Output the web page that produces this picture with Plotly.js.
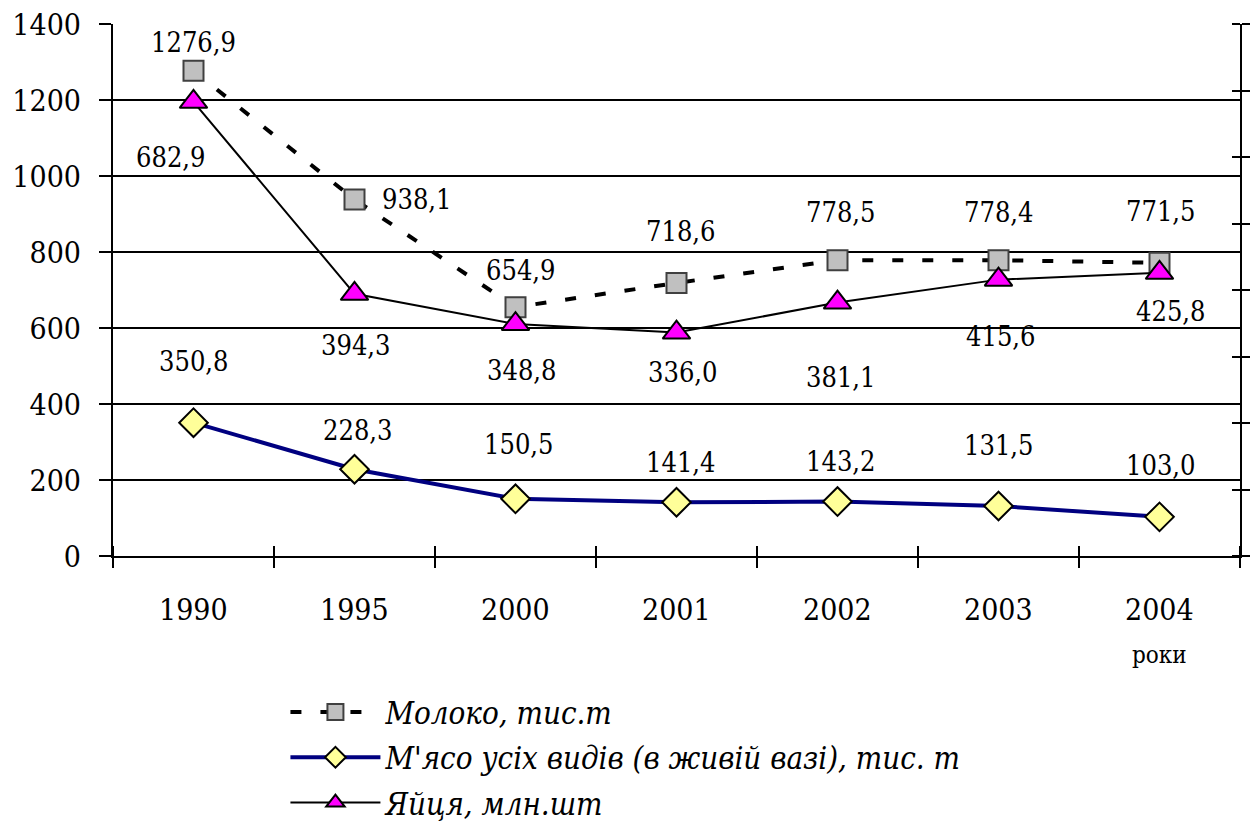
<!DOCTYPE html>
<html>
<head>
<meta charset="utf-8">
<script src="https://cdn.plot.ly/plotly-3.0.1.min.js"></script>
<style>html,body{margin:0;padding:0;background:#fff;}#chart{width:1257px;height:821px;}#err{position:absolute;left:0;top:0;color:red;font-size:14px;}</style>
</head>
<body>
<div id="chart"></div>
<div id="err"></div>
<script>
const years = ['1990', '1995', '2000', '2001', '2002', '2003', '2004'];
const milk = [1276.9, 938.1, 654.9, 718.6, 778.5, 778.4, 771.5];
const meat = [350.8, 228.3, 150.5, 141.4, 143.2, 131.5, 103.0];
const eggs = [682.9, 394.3, 348.8, 336.0, 381.1, 415.6, 425.8];
const names = ['Молоко, тис.т', "М'ясо усіх видів (в живій вазі), тис. т", 'Яйця, млн.шт'];

const FONT = 'DejaVu Serif Condensed, DejaVu Serif';
const fmt = v => v.toFixed(1).replace('.', ',');
const idx = years.map((_, i) => i);
const n = years.length;
const bounds = [];
for (let i = 0; i <= n; i++) bounds.push(i - 0.5);

// label offsets (pixels) – styling only
const milkOff = [[0, 28], [62, 0], [5, 37], [4, 51], [3, 48], [0, 48], [1, 51]];
const eggOff = [[-23, -56], [1, -52], [6, -46], [6, -40], [3, -75], [2, -57], [11, -39]];
const meatOff = [[0, 61], [3, 39], [3, 54], [4, 40], [3, 40], [0, 61], [1, 51]];

const traces = [
  {
    x: idx, y: milk, name: names[0], type: 'scatter', mode: 'lines+markers',
    line: {color: '#000', width: 4, dash: '11px,19px'},
    marker: {symbol: 'square', size: 20, color: '#c0c0c0', line: {color: '#404040', width: 2}},
    xaxis: 'x', yaxis: 'y', hoverinfo: 'skip', legendgroup: 'g1'
  },
  {
    x: idx, y: meat, name: names[1], type: 'scatter', mode: 'lines+markers',
    line: {color: '#000080', width: 4},
    marker: {symbol: 'diamond', size: 22, color: '#ffff99', line: {color: '#000', width: 2}},
    xaxis: 'x', yaxis: 'y', hoverinfo: 'skip', legendgroup: 'g2'
  },
  {
    x: idx, y: eggs, name: names[2], type: 'scatter', mode: 'lines+markers',
    line: {color: '#000', width: 2},
    marker: {symbol: 'triangle-up', size: 24, color: '#ff00ff', line: {color: '#000', width: 2}},
    xaxis: 'x', yaxis: 'y2', hoverinfo: 'skip', legendgroup: 'g3'
  }
];

const annotations = [];
function addLabels(vals, off, yref) {
  vals.forEach((v, i) => {
    annotations.push({
      x: i, y: v, xref: 'x', yref: yref, text: fmt(v), showarrow: false,
      xshift: off[i][0], yshift: off[i][1],
      font: {family: FONT, size: 27, color: '#000'}
    });
  });
}
addLabels(milk, milkOff, 'y');
addLabels(eggs, eggOff, 'y2');
addLabels(meat, meatOff, 'y');
// category labels
years.forEach((yr, i) => {
  annotations.push({
    x: i, y: 0, xref: 'x', yref: 'paper', text: yr, showarrow: false,
    yanchor: 'top', yshift: -34, font: {family: FONT, size: 30, color: '#000'}
  });
});
annotations.push({
  xref: 'x', yref: 'paper', x: n - 1, y: 0, yshift: -83, text: 'роки',
  showarrow: false, font: {family: FONT, size: 24, color: '#000'}, yanchor: 'top'
});

const layout = {
  width: 1257, height: 821,
  margin: {l: 113, r: 17, t: 24, b: 265, autoexpand: false},
  paper_bgcolor: '#fff', plot_bgcolor: '#fff',
  font: {family: FONT, color: '#000'},
  showlegend: true,
  legend: {
    x: 0.153, y: -0.243, xanchor: 'left', yanchor: 'top',
    font: {family: FONT, size: 31, color: '#000', style: 'italic'},
    itemwidth: 90, traceorder: 'grouped', tracegroupgap: 2, bgcolor: 'rgba(0,0,0,0)'
  },
  xaxis: {
    type: 'linear', range: [-0.5, n - 0.5], tickmode: 'array', tickvals: bounds,
    showticklabels: false,
    ticks: 'outside', ticklen: 10, tickwidth: 2, tickcolor: '#000',
    minor: {tickmode: 'array', tickvals: bounds, ticks: 'inside', ticklen: 10, tickwidth: 2, tickcolor: '#000', showgrid: false},
    showline: true, linecolor: '#000', linewidth: 2, showgrid: false, zeroline: false
  },
  yaxis: {
    range: [0, 1400], dtick: 200, ticks: 'outside', ticklen: 12, tickwidth: 2, tickcolor: '#000',
    showline: true, linecolor: '#000', linewidth: 2, showgrid: true, gridcolor: '#000', gridwidth: 2,
    zeroline: false, tickfont: {family: FONT, size: 30, color: '#000'}, ticklabelstandoff: 12
  },
  yaxis2: {
    overlaying: 'y', side: 'right', range: [0, 800], dtick: 100,
    ticks: 'outside', ticklen: 8, tickwidth: 2, tickcolor: '#000', showticklabels: false,
    minor: {dtick: 100, ticks: 'inside', ticklen: 8, tickwidth: 2, tickcolor: '#000', showgrid: false},
    showline: true, linecolor: '#000', linewidth: 2, showgrid: false, zeroline: false
  },
  annotations: annotations
};

try {
  Plotly.newPlot('chart', traces, layout, {staticPlot: true, displayModeBar: false})
    .catch(e => { document.getElementById('err').textContent = 'ERR ' + e; });
} catch (e) {
  document.getElementById('err').textContent = 'ERR ' + e;
}
</script>
</body>
</html>
